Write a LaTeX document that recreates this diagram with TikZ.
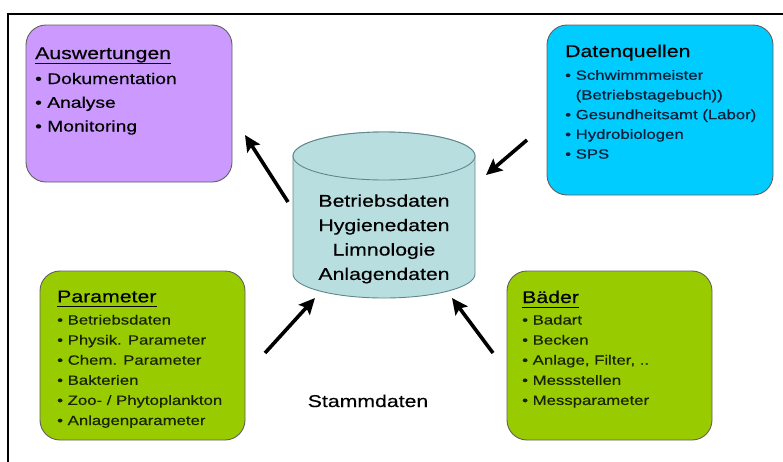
\documentclass[tikz,border=0pt]{standalone}
\usepackage{fontspec}
\setmainfont{Liberation Sans}[FakeStretch=1.25,FakeBold=0.4]
\usetikzlibrary{arrows.meta}
\definecolor{cpurple}{RGB}{204,153,255}
\definecolor{ccyan}{RGB}{0,204,255}
\definecolor{cgreen}{RGB}{153,204,0}
\definecolor{ccyl}{RGB}{185,222,224}
\definecolor{ccylline}{RGB}{95,135,138}
\definecolor{cedge}{RGB}{95,95,95}
\definecolor{ctxtblue}{RGB}{10,30,55}
\definecolor{ctxtgreen}{RGB}{25,35,0}
\begin{document}
\begin{tikzpicture}[x=1pt,y=-1pt,
  box/.style={draw=cedge,line width=0.9pt,rounded corners=20pt,inner sep=0pt,outer sep=0pt},
  ttl/.style={anchor=base west,inner sep=0pt,font=\fontsize{17}{20}\selectfont},
  itm/.style={anchor=base west,inner sep=0pt,font=\fontsize{13.4}{16}\selectfont},
  itmbig/.style={anchor=base west,inner sep=0pt,font=\fontsize{15.4}{18}\selectfont},
  cyltxt/.style={anchor=base,inner sep=0pt,font=\fontsize{17}{20}\selectfont},
  uline/.style={line width=1.3pt},
  arr/.style={line width=3.6pt,-{Stealth[length=16pt,width=15pt,inset=3pt]}}
]
\useasboundingbox (0,0) rectangle (783,461);
\clip (0,0) rectangle (783,461);
% frame
\draw[line width=2pt] (7.7,470) -- (7.7,14.3) -- (790,14.3);

% boxes
\node[box,fill=cpurple,minimum width=206pt,minimum height=157pt] (aus) at (129,103.5) {};
\node[box,fill=ccyan,minimum width=226pt,minimum height=170pt] (dq) at (660,110) {};
\node[box,fill=cgreen,minimum width=205pt,minimum height=169pt] (par) at (142.5,355.5) {};
\node[box,fill=cgreen,minimum width=205pt,minimum height=169pt] (bad) at (609.5,355.5) {};

% Auswertungen
\node[ttl] (aust) at (35,59) {Auswertungen};
\draw[uline] ([yshift=-4.2pt]aust.base west) -- ([yshift=-4.2pt]aust.base east);
\node[itmbig] (aus1) at (35,84) {• Dokumentation};
\node[itmbig] (aus2) at (35,107.8) {• Analyse};
\node[itmbig] (aus3) at (35,131.5) {• Monitoring};

% Datenquellen
\node[ttl] (dqt) at (565,57) {Datenquellen};
\node[itm,text=ctxtblue] (dq1) at (565,79.8) {• Schwimmmeister};
\node[itm,text=ctxtblue] (dq2) at (565,99.5) {\phantom{• }(Betriebstagebuch))};
\node[itm,text=ctxtblue] (dq3) at (565,119.2) {• Gesundheitsamt (Labor)};
\node[itm,text=ctxtblue] (dq4) at (565,138.9) {• Hydrobiologen};
\node[itm,text=ctxtblue] (dq5) at (565,158.6) {• SPS};

% Parameter
\node[ttl] (part) at (57,302.3) {Parameter};
\draw[uline] ([yshift=-4.3pt]part.base west) -- ([yshift=-4.3pt]part.base east);
\node[itm,text=ctxtgreen] (par1) at (57,324.5) {• Betriebsdaten};
\node[itm,text=ctxtgreen] (par2) at (57,344.6) {• Physik. Parameter};
\node[itm,text=ctxtgreen] (par3) at (57,364.7) {• Chem. Parameter};
\node[itm,text=ctxtgreen] (par4) at (57,384.8) {• Bakterien};
\node[itm,text=ctxtgreen] (par5) at (57,404.9) {• Zoo- / Phytoplankton};
\node[itm,text=ctxtgreen] (par6) at (57,425) {• Anlagenparameter};

% Baeder
\node[ttl] (badt) at (522,303) {Bäder};
\draw[uline] ([yshift=-4.5pt]badt.base west) -- ([yshift=-4.5pt]badt.base east);
\node[itm,text=ctxtgreen] (bad1) at (522,324.5) {• Badart};
\node[itm,text=ctxtgreen] (bad2) at (522,344.6) {• Becken};
\node[itm,text=ctxtgreen] (bad3) at (522,364.7) {• Anlage, Filter, ..};
\node[itm,text=ctxtgreen] (bad4) at (522,384.8) {• Messstellen};
\node[itm,text=ctxtgreen] (bad5) at (522,404.9) {• Messparameter};

% cylinder
\draw[draw=ccylline,fill=ccyl,line width=0.9pt]
  (293,156) -- (293,274) arc[start angle=180,end angle=360,x radius=91pt,y radius=24pt]
  -- (475,156) arc[start angle=0,end angle=180,x radius=91pt,y radius=24pt] -- cycle;
\draw[draw=ccylline,fill=ccyl,line width=0.9pt] (384,156) ellipse[x radius=91pt,y radius=24pt];
\node[cyltxt] (db1) at (384,206.7) {Betriebsdaten};
\node[cyltxt] (db2) at (384,231.1) {Hygienedaten};
\node[cyltxt] (db3) at (384,255.5) {Limnologie};
\node[cyltxt] (db4) at (384,279.9) {Anlagendaten};

% Stammdaten
\node[cyltxt] (stamm) at (368,407) {Stammdaten};

% arrows
\coordinate (a1s) at (288,202); \coordinate (a1e) at (245,135);
\coordinate (a2s) at (527,140); \coordinate (a2e) at (486,175);
\coordinate (a3s) at (265,353); \coordinate (a3e) at (315,298);
\coordinate (a4s) at (493,353); \coordinate (a4e) at (452,298);
\draw[arr] (a1s) -- (a1e);
\draw[arr] (a2s) -- (a2e);
\draw[arr] (a3s) -- (a3e);
\draw[arr] (a4s) -- (a4e);
\end{tikzpicture}
\end{document}
